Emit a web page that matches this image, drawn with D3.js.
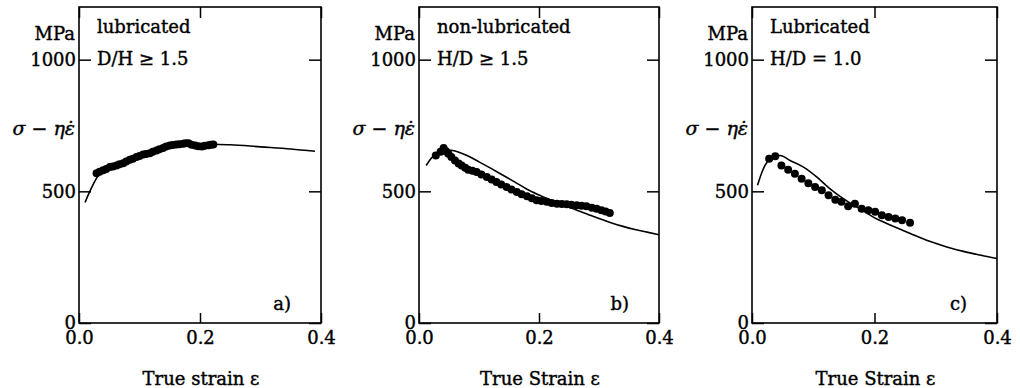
<!DOCTYPE html>
<html>
<head>
<meta charset="utf-8">
<script src="https://cdn.jsdelivr.net/npm/d3@7"></script>
<style>
  body { margin: 0; background: #fff; }
  text { font-family: "DejaVu Serif", serif; fill: #000; stroke: #000; stroke-width: 0.4px; }
</style>
</head>
<body>
<svg id="chart" width="1020" height="388"></svg>
<script>
// panel a) lubricated, D/H >= 1.5
var aDotStrain = [0.029, 0.034, 0.040, 0.045, 0.051, 0.056, 0.062, 0.067, 0.073, 0.078, 0.084, 0.089, 0.095, 0.100, 0.106, 0.111, 0.117, 0.122, 0.128, 0.133, 0.139, 0.144, 0.150, 0.155, 0.161, 0.166, 0.172, 0.176, 0.181, 0.186, 0.192, 0.197, 0.203, 0.208, 0.214, 0.218, 0.222];
var aDotStress = [569, 574, 580, 585, 592, 594, 598, 603, 607, 613, 620, 624, 630, 634, 640, 642, 645, 650, 655, 660, 665, 670, 674, 676, 678, 679, 681, 683, 683, 677, 674, 671, 670, 673, 675, 677, 678];
var aFitStrain = [0.010, 0.020, 0.032, 0.040, 0.060, 0.080, 0.100, 0.120, 0.140, 0.160, 0.180, 0.200, 0.222, 0.250, 0.300, 0.350, 0.390];
var aFitStress = [458, 510, 560, 575, 598, 616, 633, 648, 663, 674, 680, 680, 679, 677, 669, 661, 652];

// panel b) non-lubricated, H/D >= 1.5
var bDotStrain = [0.028, 0.036, 0.041, 0.045, 0.049, 0.054, 0.060, 0.066, 0.071, 0.077, 0.082, 0.089, 0.096, 0.104, 0.113, 0.121, 0.129, 0.137, 0.146, 0.154, 0.163, 0.171, 0.180, 0.188, 0.196, 0.204, 0.213, 0.221, 0.230, 0.238, 0.246, 0.254, 0.263, 0.271, 0.279, 0.288, 0.296, 0.304, 0.311, 0.318];
var bDotStress = [636, 650, 665, 652, 643, 630, 617, 606, 598, 590, 582, 578, 573, 564, 554, 545, 535, 526, 516, 507, 497, 489, 481, 474, 466, 463, 460, 456, 453, 452, 451, 449, 447, 445, 443, 438, 434, 428, 423, 418];
var bFitStrain = [0.012, 0.020, 0.030, 0.040, 0.050, 0.060, 0.080, 0.100, 0.120, 0.140, 0.160, 0.180, 0.200, 0.220, 0.240, 0.260, 0.280, 0.300, 0.320, 0.340, 0.360, 0.380, 0.400];
var bFitStress = [598, 625, 645, 655, 657, 653, 636, 612, 587, 561, 535, 508, 486, 466, 448, 431, 414, 397, 381, 367, 355, 345, 335];

// panel c) lubricated, H/D = 1.0
var cDotStrain = [0.028, 0.038, 0.048, 0.059, 0.070, 0.081, 0.092, 0.103, 0.114, 0.125, 0.136, 0.146, 0.157, 0.168, 0.179, 0.190, 0.201, 0.212, 0.223, 0.234, 0.245, 0.258];
var cDotStress = [624, 633, 598, 582, 567, 548, 531, 516, 504, 485, 468, 460, 443, 453, 434, 428, 422, 409, 403, 397, 390, 381];
var cFitStrain = [0.009, 0.015, 0.021, 0.030, 0.040, 0.046, 0.062, 0.084, 0.106, 0.127, 0.149, 0.176, 0.203, 0.220, 0.240, 0.263, 0.290, 0.318, 0.345, 0.372, 0.400];
var cFitStress = [523, 565, 598, 624, 634, 636, 617, 592, 554, 510, 472, 434, 396, 378, 358, 335, 310, 289, 272, 258, 245];

var strainTicks = [0, 0.2, 0.4];
var stressTicks = [0, 500, 1000];

var panels = [
  {left: 79, right: 321, dotX: aDotStrain, dotY: aDotStress, fitX: aFitStrain, fitY: aFitStress,
   line1: "lubricated", line2: "D/H \u2265 1.5", tag: "a)", xlabel: "True strain \u03b5"},
  {left: 419, right: 659, dotX: bDotStrain, dotY: bDotStress, fitX: bFitStrain, fitY: bFitStress,
   line1: "non-lubricated", line2: "H/D \u2265 1.5", tag: "b)", xlabel: "True Strain \u03b5"},
  {left: 752, right: 997, dotX: cDotStrain, dotY: cDotStress, fitX: cFitStrain, fitY: cFitStress,
   line1: "Lubricated", line2: "H/D = 1.0", tag: "c)", xlabel: "True Strain \u03b5"}
];

var plotTop = 7, plotBottom = 323;
var svg = d3.select("#chart");

panels.forEach(function(p) {
  var x = d3.scaleLinear().domain([0, 0.4]).range([p.left, p.right]);
  var y = d3.scaleLinear().domain([0, 1200]).range([plotBottom, plotTop]);
  var g = svg.append("g");

  // frame
  g.append("rect")
    .attr("x", p.left).attr("y", plotTop)
    .attr("width", p.right - p.left).attr("height", plotBottom - plotTop)
    .attr("fill", "none").attr("stroke", "#000").attr("stroke-width", 1.6);

  // axes, ticks pointing inwards
  g.append("g").attr("transform", "translate(0," + plotBottom + ")")
    .call(d3.axisBottom(x).tickValues(strainTicks).tickFormat(d3.format(".1f"))
      .tickSizeInner(-10).tickSizeOuter(0).tickPadding(8));
  g.append("g").attr("transform", "translate(0," + plotTop + ")")
    .call(d3.axisTop(x).tickValues(strainTicks).tickFormat("")
      .tickSizeInner(-11).tickSizeOuter(0));
  g.append("g").attr("transform", "translate(" + p.left + ",0)")
    .call(d3.axisLeft(y).tickValues(stressTicks).tickFormat(d3.format("d"))
      .tickSizeInner(-12).tickSizeOuter(0).tickPadding(3));
  g.append("g").attr("transform", "translate(" + p.right + ",0)")
    .call(d3.axisRight(y).tickValues(stressTicks).tickFormat("")
      .tickSizeInner(-12).tickSizeOuter(0));

  g.selectAll(".domain").remove();
  g.selectAll(".tick line").attr("stroke", "#000").attr("stroke-width", 1.5);
  g.selectAll(".tick text").attr("font-family", "DejaVu Serif").attr("font-size", 18).attr("fill", "#000");

  // units and quantity
  g.append("text").attr("x", p.left - 4).attr("y", 40)
    .attr("text-anchor", "end").attr("font-size", 18).text("MPa");
  g.append("text").attr("x", p.left - 4).attr("y", 135)
    .attr("text-anchor", "end").attr("font-size", 19).attr("font-style", "italic")
    .text("\u03c3 \u2212 \u03b7\u03b5\u0307");

  // labels inside
  g.append("text").attr("x", p.left + 18).attr("y", 33).attr("font-size", 18).text(p.line1);
  g.append("text").attr("x", p.left + 18).attr("y", 65).attr("font-size", 18).text(p.line2);
  g.append("text").attr("x", p.right - 30).attr("y", 310)
    .attr("text-anchor", "end").attr("font-size", 18).text(p.tag);

  // x title
  g.append("text").attr("x", x(0.2) + 1).attr("y", 385)
    .attr("text-anchor", "middle").attr("font-size", 18).text(p.xlabel);

  // model curve
  var fit = p.fitX.map(function(d, i) { return [d, p.fitY[i]]; });
  var line = d3.line()
    .x(function(d) { return x(d[0]); })
    .y(function(d) { return y(d[1]); })
    .curve(d3.curveMonotoneX);
  g.append("path").datum(fit)
    .attr("d", line).attr("fill", "none")
    .attr("stroke", "#000").attr("stroke-width", 1.6);

  // measured points
  var dots = p.dotX.map(function(d, i) { return [d, p.dotY[i]]; });
  g.append("g").selectAll("circle")
    .data(dots).enter().append("circle")
    .attr("cx", function(d) { return x(d[0]); })
    .attr("cy", function(d) { return y(d[1]); })
    .attr("r", 4)
    .attr("fill", "#000");
});
</script>
</body>
</html>
